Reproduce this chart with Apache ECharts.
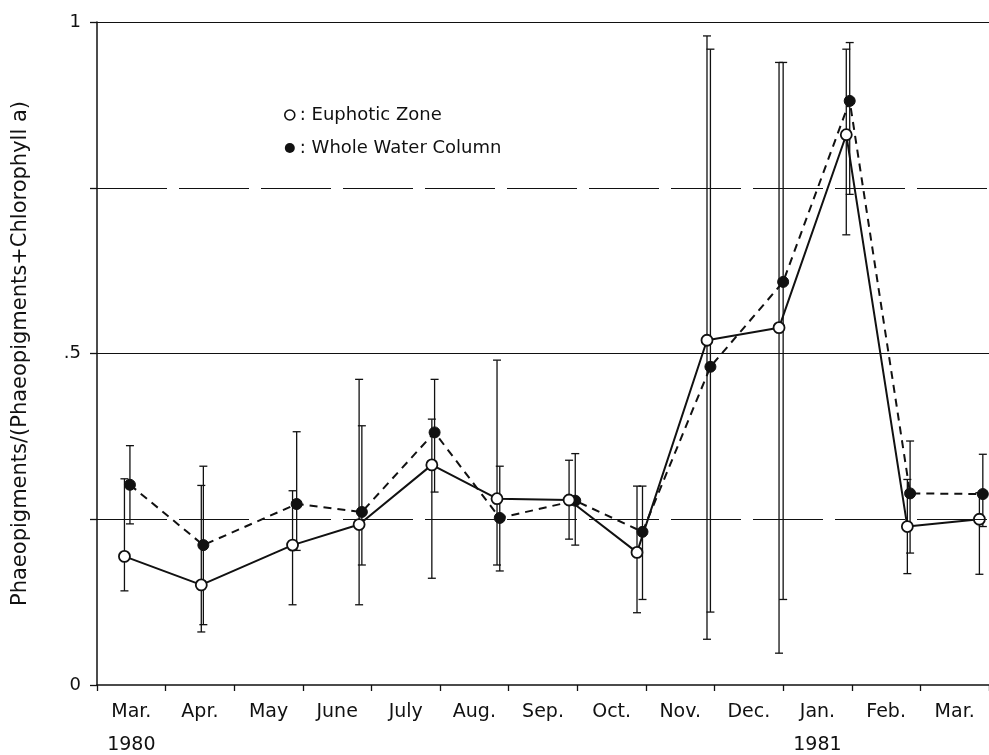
<!DOCTYPE html>
<html>
<head>
<meta charset="utf-8">
<script src="https://cdn.jsdelivr.net/npm/echarts@6/dist/echarts.min.js"></script>
<style>
  html, body { margin: 0; padding: 0; background: #fff; }
  #chart { width: 989px; height: 755px; }
</style>
</head>
<body>
<div id="chart"></div>
<script>
// month labels (category axis, one band per month)
const monthLabels = ['Mar.\n1980', 'Apr.', 'May', 'June', 'July', 'Aug.', 'Sep.', 'Oct.', 'Nov.', 'Dec.', 'Jan.\n1981', 'Feb.', 'Mar.']

// sampling positions in month units (0 = start of Mar. 1980)
const euphoticX = [0.40, 1.52, 2.85, 3.82, 4.88, 5.83, 6.88, 7.87, 8.89, 9.94, 10.92, 11.81, 12.86]
const euphoticY = [0.194, 0.151, 0.211, 0.242, 0.332, 0.281, 0.279, 0.200, 0.520, 0.539, 0.830, 0.239, 0.250]
const euphoticLow = [0.142, 0.080, 0.121, 0.121, 0.161, 0.181, 0.220, 0.109, 0.069, 0.048, 0.679, 0.168, 0.167]
const euphoticHigh = [0.311, 0.301, 0.293, 0.461, 0.401, 0.490, 0.339, 0.300, 0.979, 0.939, 0.959, 0.310, 0.290]

const wholeX = [0.48, 1.55, 2.91, 3.86, 4.92, 5.87, 6.97, 7.95, 8.94, 10.00, 10.97, 11.85, 12.91]
const wholeY = [0.302, 0.211, 0.273, 0.261, 0.381, 0.252, 0.278, 0.231, 0.480, 0.608, 0.881, 0.289, 0.288]
const wholeLow = [0.243, 0.091, 0.203, 0.181, 0.291, 0.172, 0.211, 0.129, 0.110, 0.129, 0.740, 0.199, 0.239]
const wholeHigh = [0.361, 0.330, 0.382, 0.391, 0.461, 0.330, 0.349, 0.300, 0.959, 0.939, 0.969, 0.368, 0.348]

// horizontal reference lines
const refLevels = [1, 0.75, 0.5, 0.25]

const INK = '#111'
const FONT = 'DejaVu Sans'

function pairs(xs, ys) {
  return xs.map((x, i) => [x, ys[i]])
}

function bars(xs, lo, hi) {
  return xs.map((x, i) => [x, lo[i], hi[i]])
}

function renderErrorBar(params, api) {
  const x = api.value(0)
  const top = api.coord([x, api.value(2)])
  const bottom = api.coord([x, api.value(1)])
  const cap = 4
  const style = { stroke: INK, lineWidth: 1.3 }
  return {
    type: 'group',
    children: [
      { type: 'line', shape: { x1: top[0], y1: top[1], x2: bottom[0], y2: bottom[1] }, style },
      { type: 'line', shape: { x1: top[0] - cap, y1: top[1], x2: top[0] + cap, y2: top[1] }, style },
      { type: 'line', shape: { x1: bottom[0] - cap, y1: bottom[1], x2: bottom[0] + cap, y2: bottom[1] }, style },
    ],
  }
}

const chart = echarts.init(document.getElementById('chart'))

const option = {
  backgroundColor: '#fff',
  animation: false,
  textStyle: { fontFamily: FONT, color: INK },
  grid: { left: 97, right: 0, top: 22, bottom: 70, containLabel: false, outerBoundsMode: 'none' },
  legend: {
    orient: 'vertical',
    left: 279,
    top: 101,
    itemGap: 15,
    itemWidth: 10,
    itemHeight: 10,
    data: [
      { name: 'Euphotic Zone', icon: 'circle', itemStyle: { color: '#fff', borderColor: INK, borderWidth: 1.6 } },
      { name: 'Whole Water Column', icon: 'circle', itemStyle: { color: INK, borderColor: INK } },
    ],
    formatter: (name) => ': ' + name,
    textStyle: { fontFamily: FONT, fontSize: 18, color: INK },
  },
  xAxis: [
    {
      type: 'category',
      data: monthLabels,
      boundaryGap: true,
      axisLine: { lineStyle: { color: INK, width: 1.5 } },
      axisTick: { show: true, length: 6, lineStyle: { color: INK, width: 1.3 } },
      axisLabel: { fontSize: 19, color: INK, margin: 11, lineHeight: 33, fontFamily: FONT },
      splitLine: { show: false },
    },
    {
      type: 'value',
      min: 0,
      max: 13,
      show: false,
    },
  ],
  yAxis: {
    type: 'value',
    min: 0,
    max: 1,
    interval: 0.25,
    name: 'Phaeopigments/(Phaeopigments+Chlorophyll a)',
    nameLocation: 'middle',
    nameGap: 66,
    nameRotate: 90,
    nameTextStyle: { fontSize: 21, color: INK, fontFamily: FONT },
    axisLine: { show: true, lineStyle: { color: INK, width: 1.5 } },
    axisTick: { show: true, length: 7, lineStyle: { color: INK, width: 1.3 } },
    axisLabel: {
      fontSize: 18,
      color: INK,
      margin: 16,
      formatter: (v) => (v === 0 ? '0' : v === 0.5 ? '.5' : v === 1 ? '1' : ''),
    },
    splitLine: { show: false },
  },
  series: [
    {
      name: 'refLines',
      type: 'line',
      xAxisIndex: 1,
      data: [],
      silent: true,
      markLine: {
        silent: true,
        symbol: 'none',
        label: { show: false },
        data: refLevels.map((v) => ({
          yAxis: v,
          lineStyle: { color: INK, width: 1.2, type: v === 0.25 || v === 0.75 ? [70, 12] : 'solid' },
        })),
      },
    },
    {
      name: 'euphoticBars',
      type: 'custom',
      xAxisIndex: 1,
      renderItem: renderErrorBar,
      data: bars(euphoticX, euphoticLow, euphoticHigh),
      encode: { x: 0, y: [1, 2] },
      z: 2,
    },
    {
      name: 'wholeBars',
      type: 'custom',
      xAxisIndex: 1,
      renderItem: renderErrorBar,
      data: bars(wholeX, wholeLow, wholeHigh),
      encode: { x: 0, y: [1, 2] },
      z: 2,
    },
    {
      name: 'Whole Water Column',
      type: 'line',
      xAxisIndex: 1,
      data: pairs(wholeX, wholeY),
      symbol: 'circle',
      symbolSize: 11,
      itemStyle: { color: INK, borderColor: INK },
      lineStyle: { color: INK, width: 2, type: [8, 6] },
      z: 3,
    },
    {
      name: 'Euphotic Zone',
      type: 'line',
      xAxisIndex: 1,
      data: pairs(euphoticX, euphoticY),
      symbol: 'circle',
      symbolSize: 11,
      itemStyle: { color: '#fff', borderColor: INK, borderWidth: 1.8 },
      lineStyle: { color: INK, width: 2 },
      z: 4,
    },
  ],
}

chart.setOption(option)
</script>
</body>
</html>
